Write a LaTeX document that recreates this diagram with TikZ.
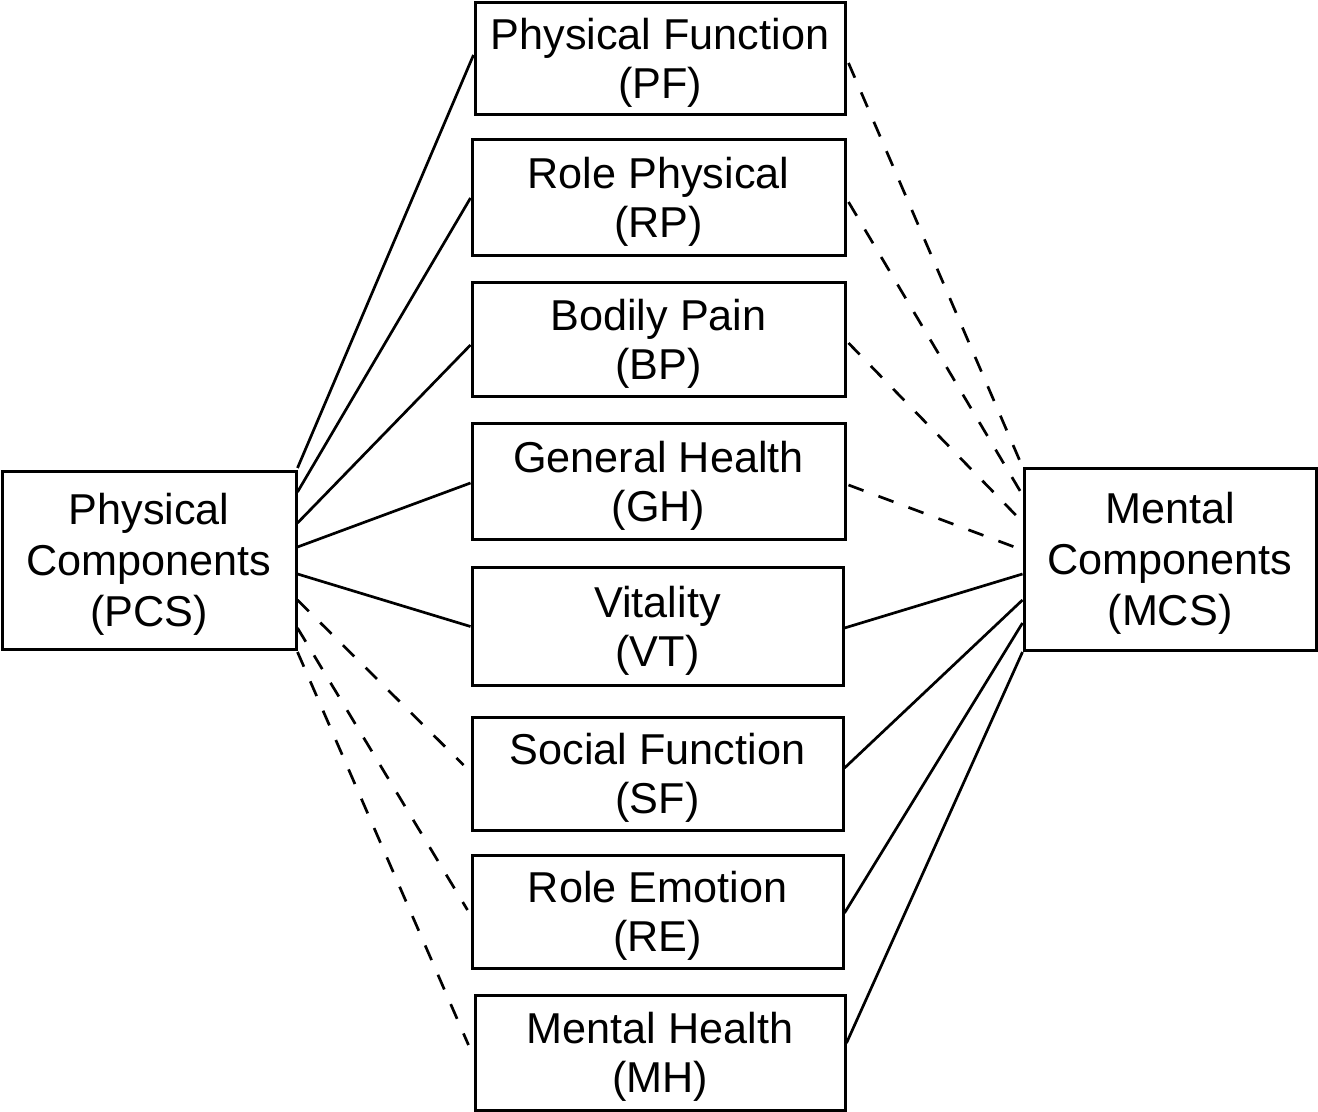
\documentclass[tikz,border=0pt]{standalone}
\usepackage{fontspec}
\setmainfont{Liberation Sans}
\usetikzlibrary{calc}
\begin{document}
\begin{tikzpicture}[x=0.5pt,y=-0.5pt,
  box/.style={draw=black,line width=1.5pt,inner sep=0pt},
  lbl/.style={align=center,inner sep=0pt,yshift=-2pt,
    font=\fontsize{21.6}{24.5}\selectfont},
  biglbl/.style={lbl,font=\fontsize{21.6}{25.5}\selectfont},
  conn/.style={line width=1.35pt,black},
  dconn/.style={conn,dash pattern=on 8pt off 8pt}]
\useasboundingbox (0,0) rectangle (1318,1112);
% sub-scale boxes
\node[box,minimum width=185pt,minimum height=56pt,label={[lbl]center:{Physical Function\\(PF)}}] (PF) at (660,59) {};
\node[box,minimum width=186.5pt,minimum height=58pt,label={[lbl]center:{Role Physical\\(RP)}}] (RP) at (658.5,198) {};
\node[box,minimum width=186.5pt,minimum height=57pt,label={[lbl]center:{Bodily Pain\\(BP)}}] (BP) at (658.5,340) {};
\node[box,minimum width=186.5pt,minimum height=58pt,label={[lbl]center:{General Health\\(GH)}}] (GH) at (658.5,482) {};
\node[box,minimum width=185.5pt,minimum height=58.5pt,label={[lbl]center:{Vitality\\(VT)}}] (VT) at (657.5,626.5) {};
\node[box,minimum width=185.5pt,minimum height=56.5pt,label={[lbl]center:{Social Function\\(SF)}}] (SF) at (657.5,773.5) {};
\node[box,minimum width=185.5pt,minimum height=56.5pt,label={[lbl]center:{Role Emotion\\(RE)}}] (RE) at (657.5,911.5) {};
\node[box,minimum width=185pt,minimum height=57.5pt,label={[lbl]center:{Mental Health\\(MH)}}] (MH) at (660,1052.5) {};
% summary boxes
\node[box,minimum width=147pt,minimum height=88.5pt,label={[biglbl]center:{Physical\\Components\\(PCS)}}] (PCS) at (149,560.5) {};
\node[box,minimum width=146pt,minimum height=90.5pt,label={[biglbl]center:{Mental\\Components\\(MCS)}}] (MCS) at (1170,559.5) {};
% PCS connectors
\draw[conn] ($(PCS.east)+(0,-92.5)$) -- ($(PF.west)+(0,-4)$);
\draw[conn] ($(PCS.east)+(0,-68.5)$) -- ($(RP.west)+(0,0)$);
\draw[conn] ($(PCS.east)+(0,-37.5)$) -- ($(BP.west)+(0,5)$);
\draw[conn] ($(PCS.east)+(0,-13.5)$) -- ($(GH.west)+(0,1)$);
\draw[conn] ($(PCS.east)+(0,13.5)$) -- ($(VT.west)+(0,0)$);
\draw[dconn] ($(PCS.east)+(0,39.5)$) -- ($(SF.west)+(-7,-8.5)$);
\draw[dconn] ($(PCS.east)+(0,67.5)$) -- ($(RE.west)+(-3,-1.5)$);
\draw[dconn] ($(PCS.east)+(0,91.5)$) -- ($(MH.west)+(-5,-7.5)$);
% MCS connectors
\draw[dconn] ($(PF.east)+(2,4)$) -- ($(MCS.west)+(0,-92.5)$);
\draw[dconn] ($(RP.east)+(2,4)$) -- ($(MCS.west)+(0,-64.5)$);
\draw[dconn] ($(BP.east)+(2,3)$) -- ($(MCS.west)+(0,-37.5)$);
\draw[dconn] ($(GH.east)+(2,3)$) -- ($(MCS.west)+(0,-9.5)$);
\draw[conn] ($(VT.east)+(0,1.5)$) -- ($(MCS.west)+(0,14.5)$);
\draw[conn] ($(SF.east)+(0,-5.5)$) -- ($(MCS.west)+(0,40.5)$);
\draw[conn] ($(RE.east)+(0,1.5)$) -- ($(MCS.west)+(0,63.5)$);
\draw[conn] ($(MH.east)+(0,-9.5)$) -- ($(MCS.west)+(0,92.5)$);
\end{tikzpicture}
\end{document}
